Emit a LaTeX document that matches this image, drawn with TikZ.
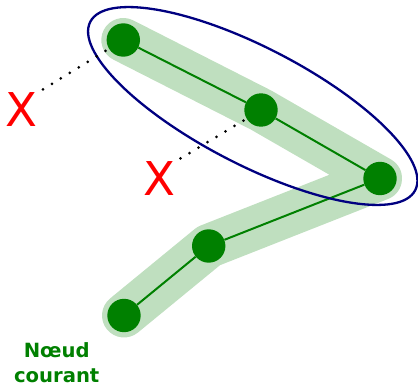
\documentclass[tikz,border=0pt]{standalone}
\usepackage{fontspec}
\usetikzlibrary{backgrounds}
\newfontfamily\labelfont{DejaVu Sans}
\definecolor{leaf}{HTML}{008000}
\definecolor{trail}{RGB}{191,223,191}
\definecolor{hull}{HTML}{000080}
\begin{document}
\begin{tikzpicture}[x=1pt,y=-1pt,
  vertex/.style={circle, fill=leaf, inner sep=0pt, minimum size=33.4pt},
  edge/.style={draw=leaf, line width=2pt},
  trailband/.style={draw=trail, line width=44pt, line cap=round, line join=round},
  hullline/.style={draw=hull, line width=2.3pt},
  reject/.style={text=red, font=\labelfont\fontsize{46.6pt}{46.6pt}\selectfont, inner sep=0pt},
  dotline/.style={draw=black, line width=3pt, line cap=round,
    dash pattern=on 0pt off 10.5pt, shorten <=6pt, shorten >=2pt},
  caption/.style={text=leaf, font=\labelfont\bfseries\fontsize{19.6pt}{25pt}\selectfont,
    align=center, inner sep=0pt}]
\useasboundingbox (0,0) rectangle (418,385);

% path vertices
\node[vertex] (n1) at (123.3,40) {};
\node[vertex] (n2) at (261,110) {};
\node[vertex] (n3) at (380,178.5) {};
\node[vertex] (n4) at (208.7,246) {};
\node[vertex] (n5) at (124,315.5) {};

% wide translucent trail behind the path
\begin{scope}[on background layer]
  \draw[trailband] (n1.center) -- (n2.center) -- (n3.center) -- (n4.center) -- (n5.center);
\end{scope}

% path edges
\draw[edge] (n1) -- (n2);
\draw[edge] (n2) -- (n3);
\draw[edge] (n3) -- (n4);
\draw[edge] (n4) -- (n5);

% enclosing hull around the first three vertices
\begin{scope}[shift={(252.75,106)}, rotate=-27.4]
  \draw[hullline] (0,0) ellipse [x radius=183pt, y radius=58.5pt];
\end{scope}

% rejected candidates
\node[reject] (x1) at (21.7,109.7) {X};
\node[reject] (x2) at (159.2,178.7) {X};
\draw[dotline] (x1.north east) -- (n1);
\draw[dotline] (x2.north east) -- (n2);

% label of the current node
\node[caption, anchor=south] (current) at (56.7,382.6) {Nœud\\courant};
\end{tikzpicture}
\end{document}
